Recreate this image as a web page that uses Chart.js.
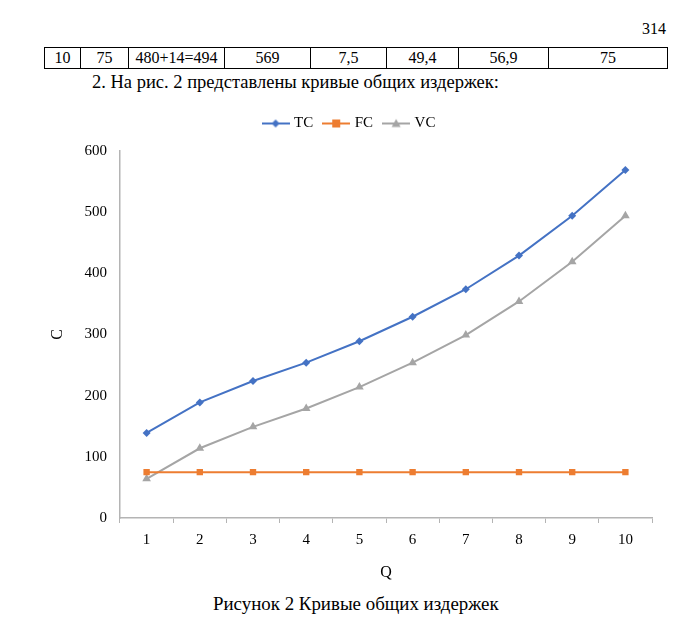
<!DOCTYPE html>
<html>
<head>
<meta charset="utf-8">
<script src="https://cdn.jsdelivr.net/npm/chart.js@4.4.0/dist/chart.umd.min.js"></script>
<style>
  body { margin: 0; background: #fff; font-family: "Liberation Serif", "DejaVu Serif", serif; color: #000; }
  #page { position: relative; width: 700px; height: 631px; overflow: hidden; }
  .txt { position: absolute; white-space: nowrap; }
  #tbl { position: absolute; left: 44px; top: 47px; border-collapse: collapse; font-size: 16px; }
  #tbl td { border: 1px solid #000; height: 20px; padding: 0; text-align: center; line-height: 20px; }
  #chartBox { position: absolute; left: 0; top: 100px; width: 700px; height: 490px; }
</style>
</head>
<body>
<div id="page">
  <div class="txt" style="right:34px; top:20px; font-size:16px;">314</div>
  <table id="tbl">
    <tr>
      <td style="width:35px">10</td>
      <td style="width:47px">75</td>
      <td style="width:95px">480+14=494</td>
      <td style="width:85px">569</td>
      <td style="width:75px">7,5</td>
      <td style="width:71px">49,4</td>
      <td style="width:89px">56,9</td>
      <td style="width:118px">75</td>
    </tr>
  </table>
  <div class="txt" style="left:92px; top:72px; font-size:18.5px;">2. На рис. 2 представлены кривые общих издержек:</div>
  <div id="chartBox"><canvas id="grafico"></canvas></div>
  <div class="txt" style="left:213px; top:593px; font-size:18.9px;">Рисунок 2 Кривые общих издержек</div>
</div>

<script>
const categoriasQ = ["1", "2", "3", "4", "5", "6", "7", "8", "9", "10"];
const valoresTC = [139, 189, 224, 254, 289, 329, 374, 429, 494, 569];
const valoresFC = [75, 75, 75, 75, 75, 75, 75, 75, 75, 75];
const valoresVC = [64, 114, 149, 179, 214, 254, 299, 354, 419, 494];

const corTC = "#4472C4";
const corFC = "#ED7D31";
const corVC = "#A5A5A5";
const corEixo = "#B4B4B4";
const fonte = "'Liberation Serif', 'DejaVu Serif', serif";

// small legend sample: line with the marker in the middle
function amostraLegenda(cor, estilo) {
    const c = document.createElement("canvas");
    c.width = 28;
    c.height = 12;
    const ctx = c.getContext("2d");
    ctx.strokeStyle = cor;
    ctx.fillStyle = cor;
    ctx.lineWidth = 2;
    ctx.beginPath();
    ctx.moveTo(0, 6);
    ctx.lineTo(28, 6);
    ctx.stroke();
    ctx.beginPath();
    if (estilo === "rectRot") {
        ctx.moveTo(14, 2); ctx.lineTo(18, 6); ctx.lineTo(14, 10); ctx.lineTo(10, 6);
    } else if (estilo === "rect") {
        ctx.rect(10, 2, 8, 8);
    } else {
        ctx.moveTo(14, 1.5); ctx.lineTo(18.5, 9.5); ctx.lineTo(9.5, 9.5);
    }
    ctx.closePath();
    ctx.fill();
    return c;
}

const amostras = [
    amostraLegenda(corTC, "rectRot"),
    amostraLegenda(corFC, "rect"),
    amostraLegenda(corVC, "triangle")
];

// legend gets a bit more room below it
const espacoLegenda = {
    id: "espacoLegenda",
    beforeInit(chart) {
        const fitOriginal = chart.legend.fit;
        chart.legend.fit = function () {
            fitOriginal.call(this);
            this.height += 10;
        };
    }
};

const grafico = new Chart(document.querySelector("#grafico"), {
    type: "line",
    data: {
        labels: categoriasQ,
        datasets: [
            {
                label: "TC",
                data: valoresTC,
                borderColor: corTC,
                backgroundColor: corTC,
                borderWidth: 2,
                pointStyle: "rectRot",
                pointRadius: 4,
                pointBorderWidth: 0
            },
            {
                label: "FC",
                data: valoresFC,
                borderColor: corFC,
                backgroundColor: corFC,
                borderWidth: 2,
                pointStyle: "rect",
                pointRadius: 4.5,
                pointBorderWidth: 0
            },
            {
                label: "VC",
                data: valoresVC,
                borderColor: corVC,
                backgroundColor: corVC,
                borderWidth: 2,
                pointStyle: "triangle",
                pointRadius: 5,
                pointBorderWidth: 0
            }
        ]
    },
    plugins: [espacoLegenda],
    options: {
        responsive: true,
        maintainAspectRatio: false,
        animation: false,
        layout: { padding: { left: 48, right: 48, top: 4, bottom: 0 } },
        plugins: {
            tooltip: { enabled: false },
            legend: {
                position: "top",
                labels: {
                    color: "#000",
                    font: { family: fonte, size: 15 },
                    usePointStyle: true,
                    pointStyleWidth: 22,
                    boxHeight: 12,
                    padding: 12,
                    generateLabels: (chart) => chart.data.datasets.map((ds, i) => ({
                        text: ds.label,
                        pointStyle: amostras[i],
                        fillStyle: ds.borderColor,
                        strokeStyle: ds.borderColor,
                        lineWidth: 0,
                        datasetIndex: i,
                        hidden: false
                    }))
                }
            }
        },
        scales: {
            x: {
                offset: true,
                grid: {
                    display: true,
                    offset: true,
                    drawOnChartArea: false,
                    drawTicks: true,
                    tickLength: 5,
                    color: corEixo
                },
                border: { display: true, color: corEixo, width: 1.5 },
                ticks: {
                    color: "#000",
                    padding: 8,
                    maxRotation: 0,
                    font: { family: fonte, size: 15 }
                },
                title: {
                    display: true,
                    text: "Q",
                    color: "#000",
                    padding: { top: 0, bottom: 8 },
                    font: { family: fonte, size: 16 }
                },
                afterFit: (escala) => { escala.height = 72; }
            },
            y: {
                min: 0,
                max: 600,
                grid: {
                    display: true,
                    drawOnChartArea: false,
                    drawTicks: false,
                    color: corEixo
                },
                border: { display: true, color: corEixo, width: 1.5 },
                ticks: {
                    stepSize: 100,
                    color: "#000",
                    padding: 13,
                    font: { family: fonte, size: 15 }
                },
                title: {
                    display: true,
                    text: "C",
                    color: "#000",
                    padding: 0,
                    font: { family: fonte, size: 16 }
                },
                afterFit: (escala) => { escala.width = 72; }
            }
        }
    }
});
</script>
</body>
</html>
